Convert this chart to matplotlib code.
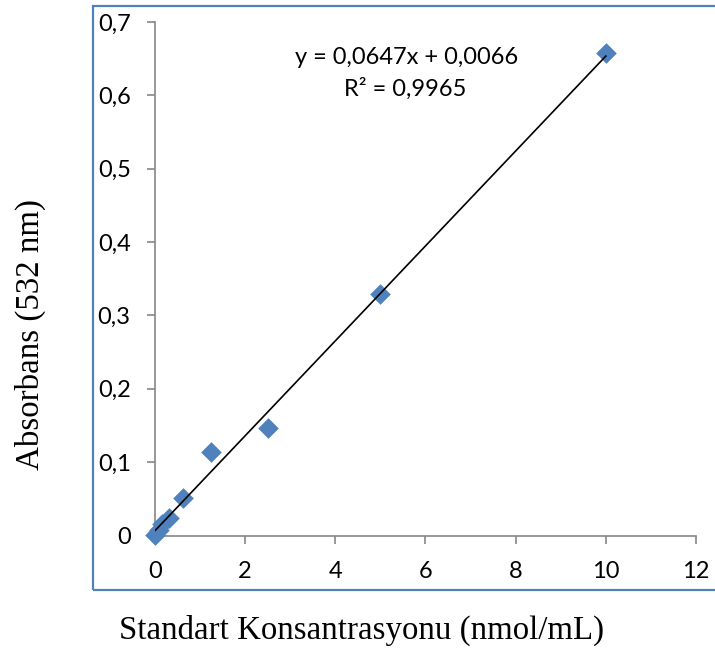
import matplotlib
matplotlib.use("Agg")
import matplotlib.pyplot as plt
from matplotlib.patches import Rectangle

# Standard concentrations (nmol/mL) and measured absorbance at 532 nm
concentration = [0, 0.078, 0.156, 0.3125, 0.625, 1.25, 2.5, 5, 10]
absorbance = [0.001, 0.008, 0.016, 0.024, 0.051, 0.114, 0.146, 0.329, 0.658]

# Linear trendline parameters
slope = 0.0647
intercept = 0.0066
r_squared = 0.9965

x_ticks = [0, 2, 4, 6, 8, 10, 12]
y_ticks = [0, 0.1, 0.2, 0.3, 0.4, 0.5, 0.6, 0.7]
x_tick_labels = ["0", "2", "4", "6", "8", "10", "12"]
y_tick_labels = ["0", "0,1", "0,2", "0,3", "0,4", "0,5", "0,6", "0,7"]

blue = "#4F81BD"
axis_gray = "#868686"
tick_font = "Lato"
label_font = "Liberation Serif"
tick_size = 17
label_size = 23.7

fig = plt.figure(figsize=(7.15, 6.48), dpi=100)
ax = fig.add_axes([0.2168, 0.1736, 0.9734 - 0.2168, 0.966 - 0.1736])

# chart area border
fig.patches.append(Rectangle((0.130, 0.0895), 0.9, 0.991 - 0.0895,
                             transform=fig.transFigure, fill=False,
                             edgecolor=blue, linewidth=1.6, clip_on=False))

ax.scatter(concentration, absorbance, marker="D", s=10.5 ** 2, color=blue,
           linewidths=0, zorder=3, clip_on=False)

line_x = [0, 10]
line_y = [slope * v + intercept for v in line_x]
ax.plot(line_x, line_y, color="black", linewidth=1.2, zorder=4)

ax.set_xlim(0, 12)
ax.set_ylim(0, 0.7)
ax.set_xticks(x_ticks)
ax.set_xticklabels(x_tick_labels, fontfamily=tick_font, fontsize=tick_size)
ax.set_yticks(y_ticks)
ax.set_yticklabels(y_tick_labels, fontfamily=tick_font, fontsize=tick_size)

for side in ("top", "right"):
    ax.spines[side].set_visible(False)
for side in ("left", "bottom"):
    ax.spines[side].set_color(axis_gray)
    ax.spines[side].set_linewidth(1.2)
ax.tick_params(axis="both", direction="out", length=5.5, width=1.2,
               color=axis_gray, labelcolor="black")
ax.tick_params(axis="y", pad=12)
ax.tick_params(axis="x", pad=12.5)

eq_text = "y = {}x + {}".format(str(slope).replace(".", ","),
                                 str(intercept).replace(".", ","))
r2_text = "R² = {}".format(str(r_squared).replace(".", ","))
fig.text(407 / 715, 1 - 58 / 648, eq_text, ha="center", va="center",
         fontfamily=tick_font, fontsize=tick_size)
fig.text(405 / 715, 1 - 89 / 648, r2_text, ha="center", va="center",
         fontfamily=tick_font, fontsize=tick_size)

fig.text(361.7 / 715, 1 - 630 / 648, "Standart Konsantrasyonu (nmol/mL)",
         ha="center", va="center", fontfamily=label_font, fontsize=label_size)
fig.text(30 / 715, 1 - 334 / 648, "Absorbans (532 nm)", rotation=90,
         ha="center", va="center", fontfamily=label_font, fontsize=label_size)

fig.savefig("out.png", dpi=100)
